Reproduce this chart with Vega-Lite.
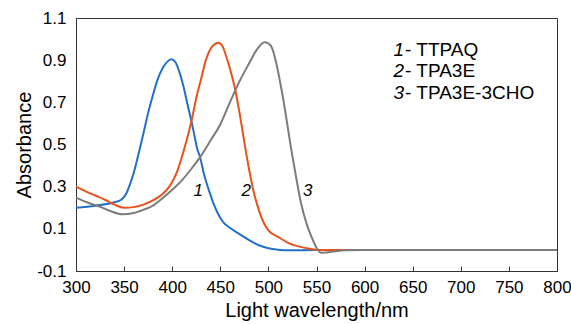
{
  "$schema": "https://vega.github.io/schema/vega-lite/v6.json",
  "width": 481,
  "height": 253,
  "autosize": "none",
  "padding": {"left": 76, "top": 18, "right": 14, "bottom": 53},
  "config": {
    "font": "Liberation Sans",
    "view": {"stroke": "#333333", "strokeWidth": 1},
    "axis": {"grid": false, "domainColor": "#333333", "labelColor": "#000000", "titleColor": "#000000", "labelFontSize": 17, "titleFontSize": 20, "titleFontWeight": "normal", "labelFont": "Liberation Sans", "titleFont": "Liberation Sans"}
  },
  "datasets": {
    "spectra": [
      {"nm": 300, "a": 0.200, "s": "1"}, {"nm": 320, "a": 0.210, "s": "1"}, {"nm": 340, "a": 0.226, "s": "1"}, {"nm": 347, "a": 0.238, "s": "1"}, {"nm": 352, "a": 0.265, "s": "1"}, {"nm": 356, "a": 0.31, "s": "1"}, {"nm": 360, "a": 0.365, "s": "1"}, {"nm": 365, "a": 0.455, "s": "1"}, {"nm": 370, "a": 0.551, "s": "1"}, {"nm": 375, "a": 0.65, "s": "1"}, {"nm": 380, "a": 0.735, "s": "1"}, {"nm": 385, "a": 0.81, "s": "1"}, {"nm": 390, "a": 0.862, "s": "1"}, {"nm": 395, "a": 0.893, "s": "1"}, {"nm": 399, "a": 0.904, "s": "1"}, {"nm": 403, "a": 0.893, "s": "1"}, {"nm": 408, "a": 0.836, "s": "1"}, {"nm": 412, "a": 0.77, "s": "1"}, {"nm": 415, "a": 0.709, "s": "1"}, {"nm": 419, "a": 0.63, "s": "1"}, {"nm": 422, "a": 0.567, "s": "1"}, {"nm": 426, "a": 0.48, "s": "1"}, {"nm": 429, "a": 0.44, "s": "1"}, {"nm": 433, "a": 0.36, "s": "1"}, {"nm": 438, "a": 0.285, "s": "1"}, {"nm": 443, "a": 0.22, "s": "1"}, {"nm": 448, "a": 0.168, "s": "1"}, {"nm": 453, "a": 0.132, "s": "1"}, {"nm": 460, "a": 0.105, "s": "1"}, {"nm": 470, "a": 0.075, "s": "1"}, {"nm": 480, "a": 0.046, "s": "1"}, {"nm": 490, "a": 0.022, "s": "1"}, {"nm": 500, "a": 0.008, "s": "1"}, {"nm": 510, "a": 0.001, "s": "1"}, {"nm": 520, "a": -0.002, "s": "1"}, {"nm": 550, "a": 0.0, "s": "1"}, {"nm": 600, "a": 0.0, "s": "1"}, {"nm": 700, "a": 0.0, "s": "1"}, {"nm": 800, "a": 0.0, "s": "1"},
      {"nm": 300, "a": 0.300, "s": "2"}, {"nm": 310, "a": 0.278, "s": "2"}, {"nm": 320, "a": 0.258, "s": "2"}, {"nm": 330, "a": 0.238, "s": "2"}, {"nm": 340, "a": 0.215, "s": "2"}, {"nm": 350, "a": 0.200, "s": "2"}, {"nm": 360, "a": 0.203, "s": "2"}, {"nm": 370, "a": 0.215, "s": "2"}, {"nm": 380, "a": 0.235, "s": "2"}, {"nm": 390, "a": 0.265, "s": "2"}, {"nm": 397, "a": 0.30, "s": "2"}, {"nm": 400, "a": 0.322, "s": "2"}, {"nm": 405, "a": 0.37, "s": "2"}, {"nm": 410, "a": 0.44, "s": "2"}, {"nm": 415, "a": 0.52, "s": "2"}, {"nm": 420, "a": 0.61, "s": "2"}, {"nm": 425, "a": 0.72, "s": "2"}, {"nm": 430, "a": 0.81, "s": "2"}, {"nm": 435, "a": 0.90, "s": "2"}, {"nm": 440, "a": 0.955, "s": "2"}, {"nm": 445, "a": 0.978, "s": "2"}, {"nm": 448, "a": 0.983, "s": "2"}, {"nm": 452, "a": 0.968, "s": "2"}, {"nm": 456, "a": 0.92, "s": "2"}, {"nm": 460, "a": 0.86, "s": "2"}, {"nm": 465, "a": 0.77, "s": "2"}, {"nm": 470, "a": 0.65, "s": "2"}, {"nm": 475, "a": 0.51, "s": "2"}, {"nm": 480, "a": 0.38, "s": "2"}, {"nm": 485, "a": 0.27, "s": "2"}, {"nm": 490, "a": 0.19, "s": "2"}, {"nm": 495, "a": 0.13, "s": "2"}, {"nm": 500, "a": 0.093, "s": "2"}, {"nm": 510, "a": 0.062, "s": "2"}, {"nm": 520, "a": 0.035, "s": "2"}, {"nm": 530, "a": 0.018, "s": "2"}, {"nm": 540, "a": 0.008, "s": "2"}, {"nm": 550, "a": 0.0, "s": "2"}, {"nm": 600, "a": 0.0, "s": "2"}, {"nm": 700, "a": 0.0, "s": "2"}, {"nm": 800, "a": 0.0, "s": "2"},
      {"nm": 300, "a": 0.248, "s": "3"}, {"nm": 312, "a": 0.225, "s": "3"}, {"nm": 325, "a": 0.205, "s": "3"}, {"nm": 337, "a": 0.182, "s": "3"}, {"nm": 348, "a": 0.169, "s": "3"}, {"nm": 360, "a": 0.175, "s": "3"}, {"nm": 370, "a": 0.19, "s": "3"}, {"nm": 380, "a": 0.21, "s": "3"}, {"nm": 390, "a": 0.245, "s": "3"}, {"nm": 400, "a": 0.285, "s": "3"}, {"nm": 410, "a": 0.33, "s": "3"}, {"nm": 420, "a": 0.385, "s": "3"}, {"nm": 429, "a": 0.44, "s": "3"}, {"nm": 440, "a": 0.52, "s": "3"}, {"nm": 450, "a": 0.595, "s": "3"}, {"nm": 460, "a": 0.70, "s": "3"}, {"nm": 470, "a": 0.80, "s": "3"}, {"nm": 480, "a": 0.885, "s": "3"}, {"nm": 488, "a": 0.95, "s": "3"}, {"nm": 496, "a": 0.985, "s": "3"}, {"nm": 500, "a": 0.98, "s": "3"}, {"nm": 504, "a": 0.955, "s": "3"}, {"nm": 508, "a": 0.89, "s": "3"}, {"nm": 512, "a": 0.80, "s": "3"}, {"nm": 516, "a": 0.70, "s": "3"}, {"nm": 519, "a": 0.614, "s": "3"}, {"nm": 524, "a": 0.47, "s": "3"}, {"nm": 529, "a": 0.34, "s": "3"}, {"nm": 534, "a": 0.22, "s": "3"}, {"nm": 540, "a": 0.12, "s": "3"}, {"nm": 545, "a": 0.06, "s": "3"}, {"nm": 550, "a": 0.01, "s": "3"}, {"nm": 555, "a": -0.014, "s": "3"}, {"nm": 560, "a": -0.012, "s": "3"}, {"nm": 570, "a": -0.006, "s": "3"}, {"nm": 580, "a": -0.002, "s": "3"}, {"nm": 600, "a": 0.0, "s": "3"}, {"nm": 700, "a": 0.0, "s": "3"}, {"nm": 800, "a": 0.0, "s": "3"}
    ],
    "curveLabels": [
      {"nm": 427, "a": 0.255, "t": "1"},
      {"nm": 477, "a": 0.255, "t": "2"},
      {"nm": 541, "a": 0.255, "t": "3"}
    ],
    "legend": [
      {"nm": 641, "a": 0.921, "n": "1", "t": "- TTPAQ"},
      {"nm": 641, "a": 0.818, "n": "2", "t": "- TPA3E"},
      {"nm": 641, "a": 0.714, "n": "3", "t": "- TPA3E-3CHO"}
    ]
  },
  "layer": [
    {
      "data": {"name": "spectra"},
      "mark": {"type": "line", "interpolate": "monotone", "strokeWidth": 2},
      "encoding": {
        "x": {"field": "nm", "type": "quantitative", "scale": {"domain": [300, 800], "nice": false, "zero": false},
          "axis": {"title": "Light wavelength/nm", "values": [300, 350, 400, 450, 500, 550, 600, 650, 700, 750, 800], "tickSize": -5, "tickColor": "#333333", "labelPadding": 13, "titlePadding": 5, "labelFlush": false}},
        "y": {"field": "a", "type": "quantitative", "scale": {"domain": [-0.1, 1.1], "nice": false, "zero": false},
          "axis": {"title": "Absorbance", "values": [-0.1, 0.1, 0.3, 0.5, 0.7, 0.9, 1.1], "labelExpr": "datum.value < 0 ? '-' + format(-datum.value, '.1f') : format(datum.value, '.1f')", "ticks": false, "labelPadding": 10, "titlePadding": 2, "labelFlush": false}},
        "color": {"field": "s", "type": "nominal", "scale": {"domain": ["1", "2", "3"], "range": ["#2270c8", "#e8521c", "#7c7c7c"]}, "legend": null},
        "order": {"field": "nm", "type": "quantitative"}
      }
    },
    {
      "data": {"name": "curveLabels"},
      "mark": {"type": "text", "fontSize": 17, "fontStyle": "italic", "baseline": "alphabetic", "align": "center", "font": "Liberation Sans"},
      "encoding": {
        "x": {"field": "nm", "type": "quantitative"},
        "y": {"field": "a", "type": "quantitative"},
        "text": {"field": "t"}
      }
    },
    {
      "data": {"name": "legend"},
      "mark": {"type": "text", "fontSize": 19, "fontStyle": "italic", "baseline": "alphabetic", "align": "right", "font": "Liberation Sans"},
      "encoding": {
        "x": {"field": "nm", "type": "quantitative"},
        "y": {"field": "a", "type": "quantitative"},
        "text": {"field": "n"}
      }
    },
    {
      "data": {"name": "legend"},
      "mark": {"type": "text", "fontSize": 19, "baseline": "alphabetic", "align": "left", "dx": 1, "font": "Liberation Sans"},
      "encoding": {
        "x": {"field": "nm", "type": "quantitative"},
        "y": {"field": "a", "type": "quantitative"},
        "text": {"field": "t"}
      }
    }
  ]
}
